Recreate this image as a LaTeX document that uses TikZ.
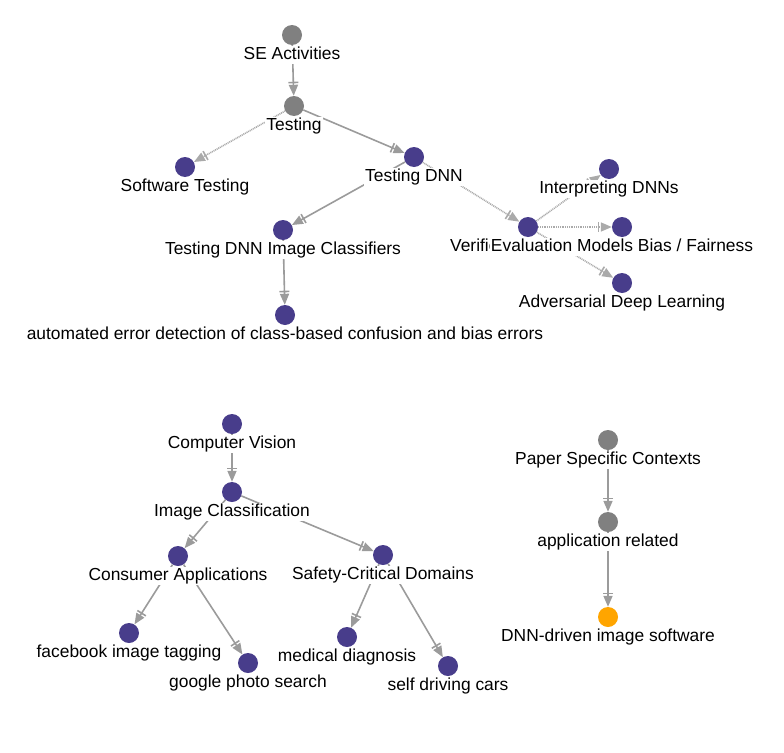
\documentclass[tikz,border=0pt]{standalone}
\usepackage{fontspec}
\setmainfont{Liberation Sans}
\usetikzlibrary{arrows.meta}
\definecolor{topicpurple}{RGB}{72,61,139}
\definecolor{topicgray}{RGB}{128,128,128}
\definecolor{topicorange}{RGB}{255,165,0}
\definecolor{edgegray}{RGB}{155,155,155}
\pgfdeclarelayer{edges}
\pgfsetlayers{edges,main}
\begin{document}
\begin{tikzpicture}[x=1pt,y=-1pt,
    topic/.style={circle, minimum size=20pt, inner sep=0pt, fill=#1},
    lbl/.style={font=\fontsize{17.4}{20}\selectfont, fill=white, inner sep=1pt,
      text height=12.4pt, text depth=3.6pt, label distance=0.5pt},
    link/.style={draw=edgegray, line width=1.6pt,
      -{Bar[width=10pt,line width=1.6pt,sep=1.5pt] Triangle[length=11pt,width=9pt]}},
    weak/.style={link, draw=edgegray!85, dash pattern=on 1pt off 0.8pt}]
  \useasboundingbox (0,0) rectangle (784,752);
  % SE activities
  \node[topic=topicgray, label={[lbl]below:SE Activities}] (seact) at (292,35) {};
  \node[topic=topicgray, label={[lbl]below:Testing}] (testing) at (294,106) {};
  \node[topic=topicpurple, label={[lbl]below:Software Testing}] (swtest) at (185,167) {};
  \node[topic=topicpurple, label={[lbl]below:Testing DNN}] (tdnn) at (414,157) {};
  \node[topic=topicpurple, label={[lbl]below:Testing DNN Image Classifiers}] (tdnnic) at (283,230) {};
  \node[topic=topicpurple, label={[lbl]below:automated error detection of class-based confusion and bias errors}] (autoerr) at (285,315) {};
  \node[topic=topicpurple, label={[lbl]below:Verification of DNNs}] (verif) at (528,227) {};
  \node[topic=topicpurple, label={[lbl]below:Interpreting DNNs}] (interp) at (609,169) {};
  \node[topic=topicpurple, label={[lbl]below:Evaluation Models Bias / Fairness}] (evalbias) at (622,227) {};
  \node[topic=topicpurple, label={[lbl]below:Adversarial Deep Learning}] (adv) at (622,283) {};
  % computer vision
  \node[topic=topicpurple, label={[lbl]below:Computer Vision}] (cv) at (232,424) {};
  \node[topic=topicpurple, label={[lbl]below:Image Classification}] (imgcls) at (232,492) {};
  \node[topic=topicpurple, label={[lbl]below:Consumer Applications}] (consumer) at (178,556) {};
  \node[topic=topicpurple, label={[lbl]below:Safety-Critical Domains}] (safety) at (383,555) {};
  \node[topic=topicpurple, label={[lbl]below:facebook image tagging}] (facebook) at (129,633) {};
  \node[topic=topicpurple, label={[lbl]below:google photo search}] (google) at (248,663) {};
  \node[topic=topicpurple, label={[lbl]below:medical diagnosis}] (medical) at (347,637) {};
  \node[topic=topicpurple, label={[lbl]below:self driving cars}] (selfdrive) at (448,666) {};
  % paper contexts
  \node[topic=topicgray, label={[lbl]below:Paper Specific Contexts}] (paper) at (608,440) {};
  \node[topic=topicgray, label={[lbl]below:application related}] (apprel) at (608,522) {};
  \node[topic=topicorange, label={[lbl]below:DNN-driven image software}] (dnnsw) at (608,617) {};
  \begin{pgfonlayer}{edges}
    \draw[link] (seact) -- (testing);
    \draw[weak] (testing) -- (swtest);
    \draw[link] (testing) -- (tdnn);
    \draw[link] (tdnn) -- (tdnnic);
    \draw[link] (tdnnic) -- (autoerr);
    \draw[weak] (tdnn) -- (verif);
    \foreach \t in {interp,evalbias,adv}
      \draw[weak] (verif) -- (\t);
    \draw[link] (cv) -- (imgcls);
    \draw[link] (imgcls) -- (consumer);
    \draw[link] (imgcls) -- (safety);
    \draw[link] (consumer) -- (facebook);
    \draw[link] (consumer) -- (google);
    \draw[link] (safety) -- (medical);
    \draw[link] (safety) -- (selfdrive);
    \draw[link] (paper) -- (apprel);
    \draw[link] (apprel) -- (dnnsw);
  \end{pgfonlayer}
\end{tikzpicture}
\end{document}
